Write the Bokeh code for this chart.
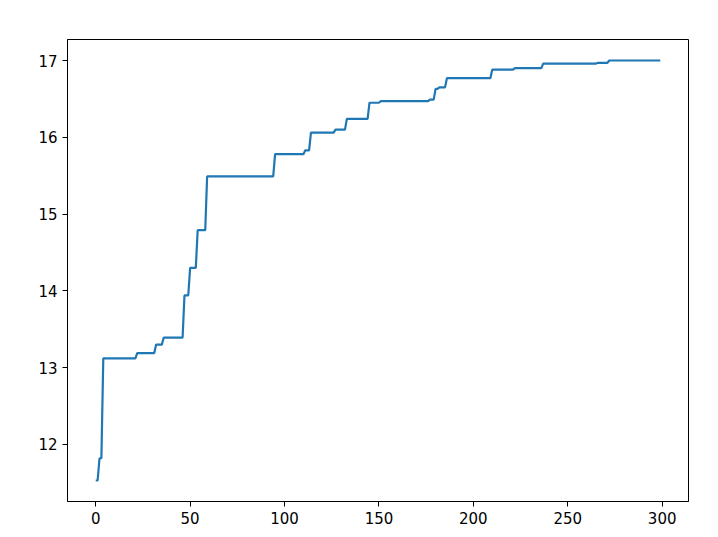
import numpy as np
from bokeh.plotting import figure
from bokeh.models import FixedTicker, Range1d
from bokeh.embed import file_html
from bokeh.resources import INLINE

# step change points (iteration index where a new best value starts) and values
step_start = [0, 2, 4, 22, 32, 36, 47, 50, 54, 59, 95, 111, 114, 127, 133, 145, 151,
              177, 180, 182, 186, 210, 222, 237, 266, 272]
step_value = [11.53, 11.82, 13.12, 13.19, 13.30, 13.39, 13.94, 14.30, 14.79, 15.49,
              15.78, 15.83, 16.06, 16.10, 16.24, 16.45, 16.47, 16.49, 16.63, 16.65,
              16.77, 16.88, 16.90, 16.96, 16.97, 17.00]
n_points = 300
x_ticks = [0, 50, 100, 150, 200, 250, 300]
y_ticks = [12, 13, 14, 15, 16, 17]

ends = step_start[1:] + [n_points]
runs = [e - s for s, e in zip(step_start, ends)]
y = np.repeat(step_value, runs)
x = np.arange(n_points)

p = figure(width=710, height=529, output_backend="svg", toolbar_location=None,
           x_range=Range1d(-14.95, 313.95), y_range=Range1d(11.2565, 17.2735),
           min_border_left=67, min_border_right=22, min_border_top=39, min_border_bottom=28)

p.line(x, y, line_color="#1f77b4", line_width=2.2)

p.xgrid.visible = False
p.ygrid.visible = False
p.outline_line_color = "black"
p.outline_line_width = 1
p.outline_line_alpha = 1
p.background_fill_color = "white"
p.border_fill_color = "white"

for ax in (p.xaxis[0], p.yaxis[0]):
    ax.major_label_text_font = "DejaVu Sans"
    ax.major_label_text_font_size = "15px"
    ax.major_label_text_color = "black"
    ax.axis_line_color = "black"
    ax.major_tick_line_color = "black"
    ax.major_tick_out = 5
    ax.major_tick_in = 0
    ax.minor_tick_line_color = None
    ax.major_label_standoff = 5

p.xaxis[0].ticker = FixedTicker(ticks=x_ticks)
p.yaxis[0].ticker = FixedTicker(ticks=y_ticks)

open("out.html", "w").write(file_html(p, INLINE))
